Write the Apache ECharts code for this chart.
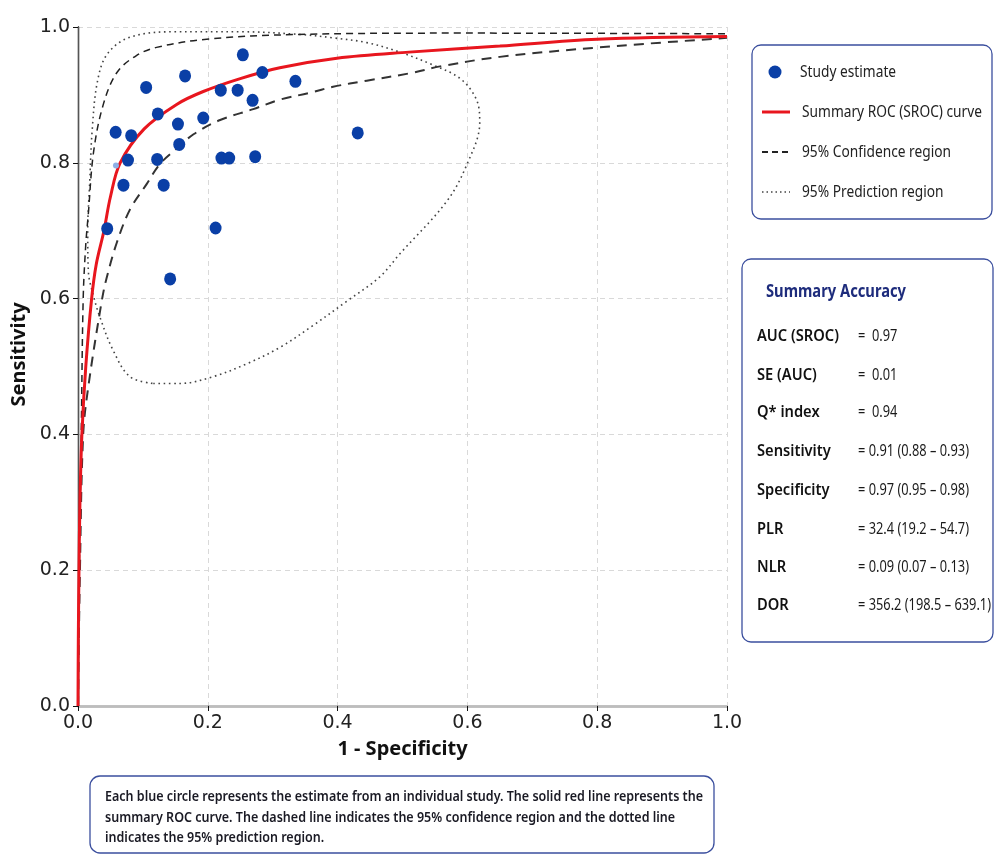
<!DOCTYPE html>
<html>
<head>
<meta charset="utf-8">
<script src="https://cdn.jsdelivr.net/npm/echarts@6/dist/echarts.min.js"></script>
<style>html,body{margin:0;padding:0;background:#fff;}#chart{width:995px;height:855px;}</style>
</head>
<body>
<div id="chart"></div>
<script>
// ---- data ----
const axisTicks = [0, 0.2, 0.4, 0.6, 0.8, 1.0];

const studyFpr  = [0.254, 0.165, 0.284, 0.335, 0.105, 0.220, 0.246, 0.269, 0.123, 0.193, 0.154, 0.058, 0.082, 0.431, 0.156, 0.077, 0.122, 0.221, 0.233, 0.273, 0.070, 0.132, 0.045, 0.212, 0.142];
const studySens = [0.959, 0.928, 0.933, 0.920, 0.911, 0.907, 0.907, 0.892, 0.872, 0.866, 0.857, 0.845, 0.840, 0.844, 0.827, 0.804, 0.805, 0.807, 0.807, 0.809, 0.767, 0.767, 0.703, 0.704, 0.629];
const faintFpr  = [0.0585];
const faintSens = [0.796];

const srocFpr  = [0, 0.0005, 0.0015, 0.003, 0.006, 0.012, 0.021, 0.028, 0.040, 0.050, 0.065, 0.102, 0.152, 0.193, 0.250, 0.311, 0.399, 0.510, 0.650, 0.800, 1.0];
const srocSens = [0, 0.10, 0.20, 0.30, 0.40, 0.50, 0.60, 0.65, 0.70, 0.75, 0.80, 0.85, 0.886, 0.905, 0.924, 0.940, 0.954, 0.963, 0.972, 0.982, 0.986];

const ciOuterFpr  = [0, 0.002, 0.005, 0.008, 0.012, 0.016, 0.024, 0.039, 0.060, 0.090, 0.121, 0.198, 0.337, 0.600, 1.0];
const ciOuterSens = [0, 0.20, 0.40, 0.60, 0.68, 0.726, 0.816, 0.886, 0.933, 0.958, 0.970, 0.982, 0.989, 0.991, 0.990];
const ciInnerFpr  = [0, 0.003, 0.008, 0.016, 0.0365, 0.044, 0.060, 0.080, 0.106, 0.126, 0.152, 0.178, 0.219, 0.270, 0.311, 0.357, 0.393, 0.445, 0.512, 0.558, 0.650, 0.804, 1.0];
const ciInnerSens = [0, 0.20, 0.40, 0.471, 0.596, 0.630, 0.683, 0.731, 0.769, 0.798, 0.821, 0.842, 0.863, 0.879, 0.893, 0.903, 0.912, 0.921, 0.932, 0.942, 0.956, 0.970, 0.984];

const predFpr  = [0.116, 0.157, 0.208, 0.260, 0.311, 0.363, 0.414, 0.465, 0.496, 0.568, 0.599, 0.619, 0.614, 0.589, 0.547, 0.496, 0.445, 0.393, 0.342, 0.250, 0.150, 0.080, 0.045, 0.030, 0.022, 0.018, 0.015, 0.016, 0.025, 0.034, 0.054, 0.080, 0.116];
const predSens = [0.475, 0.475, 0.485, 0.504, 0.528, 0.561, 0.596, 0.632, 0.666, 0.743, 0.797, 0.859, 0.893, 0.924, 0.944, 0.963, 0.977, 0.984, 0.989, 0.993, 0.993, 0.985, 0.960, 0.920, 0.850, 0.770, 0.700, 0.640, 0.600, 0.572, 0.524, 0.485, 0.475];

const legendLabels = ['Study estimate', 'Summary ROC (SROC) curve', '95% Confidence region', '95% Prediction region'];
const summaryTitle = 'Summary Accuracy';
const summaryNames  = ['AUC (SROC)', 'SE (AUC)', 'Q* index', 'Sensitivity', 'Specificity', 'PLR', 'NLR', 'DOR'];
const summaryValues = ['=  0.97', '=  0.01', '=  0.94', '= 0.91 (0.88 \u2013 0.93)', '= 0.97 (0.95 \u2013 0.98)', '= 32.4 (19.2 \u2013 54.7)', '= 0.09 (0.07 \u2013 0.13)', '= 356.2 (198.5 \u2013 639.1)'];
const captionLines = [
  'Each blue circle represents the estimate from an individual study. The solid red line represents the',
  'summary ROC curve. The dashed line indicates the 95% confidence region and the dotted line',
  'indicates the 95% prediction region.'
];

// ---- helpers ----
const zip = (a, b) => a.map((v, i) => [v, b[i]]);
const mctx = document.createElement('canvas').getContext('2d');
function fitScale(text, font, target) { mctx.font = font; return target / mctx.measureText(text).width; }

const navy = '#3b4f9e';
const legFont = '17px "Noto Sans"';
const legScale = fitScale(legendLabels[1], legFont, 180);
const titleFont = 'bold 17px "Noto Sans"';
const titleScale = fitScale(summaryTitle, titleFont, 140);
const nameFont = '600 16px "Noto Sans"';
const nameScale = fitScale(summaryNames[0], nameFont, 82);
const valFont = '17px "Noto Sans"';
const valScale = fitScale(summaryValues[7], valFont, 133);
const capFont = '600 15px "Noto Sans"';
const capScale = fitScale(captionLines[0], capFont, 598);

function txt(x, y, text, font, fill, sx) {
  return { type: 'text', x: x, y: y, scaleX: sx, z: 100,
    style: { text: text, font: font, fill: fill, align: 'left', verticalAlign: 'middle', textAlign: 'left', textVerticalAlign: 'middle' } };
}

const graphics = [];
// legend box
graphics.push({ type: 'rect', z: 90, shape: { x: 752, y: 45, width: 240, height: 174, r: 9 }, style: { fill: '#fff', stroke: navy, lineWidth: 1.3 } });
graphics.push({ type: 'circle', z: 100, shape: { cx: 775, cy: 72, r: 6.5 }, style: { fill: '#0a3fa6' } });
graphics.push({ type: 'line', z: 100, shape: { x1: 762, y1: 112, x2: 790, y2: 112 }, style: { stroke: '#e8161e', lineWidth: 3 } });
graphics.push({ type: 'line', z: 100, shape: { x1: 762, y1: 152, x2: 790, y2: 152 }, style: { stroke: '#222', lineWidth: 2, lineDash: [6, 4] } });
graphics.push({ type: 'line', z: 100, shape: { x1: 762, y1: 192, x2: 790, y2: 192 }, style: { stroke: '#444', lineWidth: 1.5, lineDash: [1.5, 3] } });
legendLabels.forEach((t, i) => graphics.push(txt(i === 0 ? 800 : 802, 72 + i * 40, t, legFont, '#222', legScale)));
// summary box
graphics.push({ type: 'rect', z: 90, shape: { x: 742, y: 259, width: 251, height: 383, r: 9 }, style: { fill: '#fff', stroke: navy, lineWidth: 1.3 } });
graphics.push(txt(766, 292, summaryTitle, titleFont, '#1e2c7c', titleScale));
const rowY = [336, 375, 412, 451, 490, 529, 567, 605];
summaryNames.forEach((t, i) => graphics.push(txt(757, rowY[i], t, nameFont, '#111', nameScale)));
summaryValues.forEach((t, i) => graphics.push(txt(858, rowY[i], t, valFont, '#1a1a1a', valScale)));
// caption box
graphics.push({ type: 'rect', z: 90, shape: { x: 90, y: 776, width: 624, height: 77, r: 10 }, style: { fill: '#fff', stroke: navy, lineWidth: 1.3 } });
captionLines.forEach((t, i) => graphics.push(txt(105, 797 + i * 20.5, t, capFont, '#1a1a24', capScale)));

const chart = echarts.init(document.getElementById('chart'), null, { renderer: 'canvas' });
const gridTop = 27, gridBottomPx = 706;
chart.setOption({
  animation: false,
  backgroundColor: '#fff',
  grid: { left: 78, right: 995 - 727, top: gridTop, bottom: 855 - gridBottomPx, containLabel: false },
  xAxis: [{
    type: 'value', min: 0, max: 1, interval: 0.2,
    name: '1 - Specificity', nameLocation: 'middle', nameGap: 33,
    nameTextStyle: { fontFamily: 'Noto Sans', fontWeight: 'bold', fontSize: 20, color: '#111' },
    axisLine: { show: true, onZero: false, lineStyle: { color: '#111', width: 1.3 } },
    axisTick: { show: true, length: 5, lineStyle: { color: '#111' } },
    axisLabel: { fontFamily: 'DejaVu Sans', fontSize: 19, color: '#222', margin: 8, formatter: v => v.toFixed(1) },
    splitLine: { show: true, lineStyle: { color: '#d9d9d9', type: [5, 4], width: 1 } }
  }, {
    type: 'value', min: 0, max: 1, position: 'top',
    axisLine: { show: true, lineStyle: { color: '#bdbdbd', width: 1.3 } },
    axisTick: { show: false }, axisLabel: { show: false }, splitLine: { show: false }
  }],
  yAxis: [{
    type: 'value', min: 0, max: 1, interval: 0.2,
    name: 'Sensitivity', nameLocation: 'middle', nameGap: 47,
    nameTextStyle: { fontFamily: 'Noto Sans', fontWeight: 'bold', fontSize: 20, color: '#111', padding: [0, 0, 0, 24] },
    axisLine: { show: true, onZero: false, lineStyle: { color: '#111', width: 1.3 } },
    axisTick: { show: true, length: 5, lineStyle: { color: '#111' } },
    axisLabel: { fontFamily: 'DejaVu Sans', fontSize: 19, color: '#222', margin: 8, formatter: v => v.toFixed(1) },
    splitLine: { show: true, lineStyle: { color: '#d9d9d9', type: [5, 4], width: 1 } }
  }, {
    type: 'value', min: 0, max: 1, position: 'right',
    axisLine: { show: true, lineStyle: { color: '#555', width: 1.3 } },
    axisTick: { show: false }, axisLabel: { show: false }, splitLine: { show: false }
  }],
  series: [
    { name: legendLabels[3], type: 'line', data: zip(predFpr, predSens), smooth: 0.35, symbol: 'none', z: 2,
      lineStyle: { color: '#444', width: 1.6, type: [1.6, 3.6] } },
    { name: legendLabels[2], type: 'line', data: zip(ciOuterFpr, ciOuterSens), smooth: 0.35, symbol: 'none', z: 3,
      lineStyle: { color: '#222', width: 1.5, type: [7, 5] } },
    { name: legendLabels[2] + ' (inner)', type: 'line', data: zip(ciInnerFpr, ciInnerSens), smooth: 0.35, symbol: 'none', z: 3,
      lineStyle: { color: '#333', width: 2, type: [10, 7] } },
    { name: legendLabels[1], type: 'line', data: zip(srocFpr, srocSens), smooth: 0.35, symbol: 'none', z: 4,
      lineStyle: { color: '#e8161e', width: 3 } },
    { name: 'faint', type: 'scatter', data: zip(faintFpr, faintSens), symbolSize: 6, z: 5,
      itemStyle: { color: '#8fb0e6', opacity: 1 } },
    { name: legendLabels[0], type: 'scatter', data: zip(studyFpr, studySens), symbolSize: [12, 13], z: 6,
      itemStyle: { color: '#0a3fa6', opacity: 1 } }
  ],
  graphic: graphics
});
</script>
</body>
</html>
